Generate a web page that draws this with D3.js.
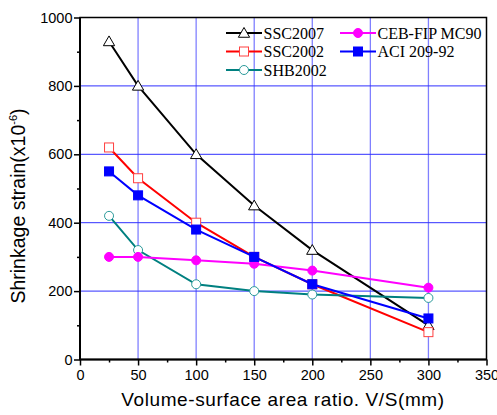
<!DOCTYPE html>
<html><head><meta charset="utf-8">
<script src="https://cdn.jsdelivr.net/npm/d3@7"></script>
<style>body{margin:0;background:#fff}</style>
</head><body>
<svg id="c" width="497" height="415"></svg>
<script>
const xValues = [25, 50, 100, 150, 200, 300];
const ssc2007 = [930, 800, 600, 450, 320, 100];
const ssc2002 = [620, 530, 400, 300, 220, 80];
const shb2002 = [420, 320, 220, 200, 190, 180];
const cebFip = [300, 300, 290, 280, 260, 210];
const aci209 = [550, 480, 380, 300, 220, 120];
const xTicks = [0, 50, 100, 150, 200, 250, 300, 350];
const yTicks = [0, 200, 400, 600, 800, 1000];
const seriesNames = ["SSC2007", "SSC2002", "SHB2002", "CEB-FIP MC90", "ACI 209-92"];

const series = [
  {name: seriesNames[0], values: ssc2007, color: "#000000", marker: "triangle", fill: "#fff", mstroke: "#000"},
  {name: seriesNames[1], values: ssc2002, color: "#ff0000", marker: "square", fill: "#fff", mstroke: "#ff4040"},
  {name: seriesNames[2], values: shb2002, color: "#008080", marker: "circle", fill: "#fff", mstroke: "#2a9a9a"},
  {name: seriesNames[3], values: cebFip, color: "#ff00ff", marker: "circle", fill: "#ff00ff", mstroke: "#ff00ff"},
  {name: seriesNames[4], values: aci209, color: "#0000ff", marker: "square", fill: "#0000ff", mstroke: "#0000ff"}
];

const svg = d3.select("#c");
const L = 80, R = 486.5, T = 17.5, B = 359.5;
const x = d3.scaleLinear().domain([0, 350]).range([L, R]);
const y = d3.scaleLinear().domain([0, 1000]).range([B, T]);

// gridlines
svg.append("g").selectAll("line").data([50,100,150,200,250,300]).join("line")
  .attr("x1", d => x(d)).attr("x2", d => x(d)).attr("y1", T).attr("y2", B)
  .attr("stroke", "#8080ff").attr("stroke-width", 1.3);
svg.append("g").selectAll("line").data([200,400,600,800]).join("line")
  .attr("x1", L).attr("x2", R).attr("y1", d => y(d)).attr("y2", d => y(d))
  .attr("stroke", "#3030ff").attr("stroke-width", 1);

// axes
const xAxis = d3.axisBottom(x).tickValues(xTicks).tickSize(6).tickPadding(4).tickFormat(d3.format("d"));
svg.append("g").attr("transform", `translate(0,${B})`).call(xAxis);
const xMinor = d3.axisBottom(x).tickValues([25,75,125,175,225,275,325]).tickSize(3).tickFormat("");
svg.append("g").attr("transform", `translate(0,${B})`).call(xMinor).select(".domain").remove();
const yAxis = d3.axisLeft(y).tickValues(yTicks).tickSize(6).tickPadding(1.5).tickFormat(d3.format("d"));
svg.append("g").attr("transform", `translate(${L},0)`).call(yAxis);
const yMinor = d3.axisLeft(y).tickValues([100,300,500,700,900]).tickSize(3).tickFormat("");
svg.append("g").attr("transform", `translate(${L},0)`).call(yMinor).select(".domain").remove();
svg.selectAll(".tick line").attr("stroke", "#000").attr("stroke-width", 1.5);
svg.selectAll(".domain").remove();
svg.selectAll(".tick text").attr("font-family", "Arial, 'Liberation Sans', sans-serif").attr("font-size", 14.5).attr("fill", "#000");

// frame
svg.append("rect").attr("x", L).attr("y", T).attr("width", R - L).attr("height", B - T)
  .attr("fill", "none").attr("stroke", "#000").attr("stroke-width", 1.5);
svg.append("line").attr("x1", L).attr("x2", L).attr("y1", T).attr("y2", B + 0.5).attr("stroke", "#000").attr("stroke-width", 2);
svg.append("line").attr("x1", L).attr("x2", R).attr("y1", B).attr("y2", B).attr("stroke", "#000").attr("stroke-width", 2);

const line = d3.line().x(d => x(d[0])).y(d => y(d[1]));

function drawMarker(g, type, cx, cy, fill, stroke) {
  if (type === "triangle") {
    g.append("path").attr("d", d3.symbol(d3.symbolTriangle, 55)()).attr("transform", `translate(${cx},${cy + 1})`)
      .attr("fill", fill).attr("stroke", stroke).attr("stroke-width", 1);
  } else if (type === "square") {
    g.append("rect").attr("x", cx - 4.5).attr("y", cy - 4.5).attr("width", 9).attr("height", 9)
      .attr("fill", fill).attr("stroke", stroke).attr("stroke-width", 1);
  } else {
    g.append("circle").attr("cx", cx).attr("cy", cy).attr("r", 4.5)
      .attr("fill", fill).attr("stroke", stroke).attr("stroke-width", 1);
  }
}

series.forEach(s => {
  const g = svg.append("g");
  const pts = xValues.map((v, i) => [v, s.values[i]]);
  g.append("path").attr("d", line(pts)).attr("fill", "none").attr("stroke", s.color).attr("stroke-width", 2);
  pts.forEach(p => drawMarker(g, s.marker, x(p[0]), y(p[1]), s.fill, s.mstroke));
});

// legend
const legPos = [[226, 33], [226, 51.5], [226, 70], [340, 33], [340, 51.5]];
series.forEach((s, i) => {
  const [lx, ly] = legPos[i];
  const g = svg.append("g");
  g.append("line").attr("x1", lx).attr("x2", lx + 36).attr("y1", ly).attr("y2", ly)
    .attr("stroke", s.color).attr("stroke-width", 2);
  drawMarker(g, s.marker, lx + 18, ly, s.fill, s.mstroke);
  g.append("text").attr("x", lx + 37.5).attr("y", ly + 5.5).text(s.name)
    .attr("font-family", "'Times New Roman', 'Liberation Serif', serif").attr("font-size", 16).attr("fill", "#000");
});

// axis titles
svg.append("text").attr("x", 283).attr("y", 406).attr("text-anchor", "middle")
  .attr("font-family", "Arial, 'Liberation Sans', sans-serif").attr("font-size", 19).attr("letter-spacing", 0.6)
  .text("Volume-surface area ratio. V/S(mm)");
const yt = svg.append("text").attr("transform", "translate(25,206) rotate(-90)").attr("text-anchor", "middle")
  .attr("font-family", "Arial, 'Liberation Sans', sans-serif").attr("font-size", 19.5);
yt.append("tspan").text("Shrinkage strain(x10");
yt.append("tspan").attr("font-size", 11).attr("dy", -8).text("-6");
yt.append("tspan").attr("dy", 8).text(")");
</script>
</body></html>
